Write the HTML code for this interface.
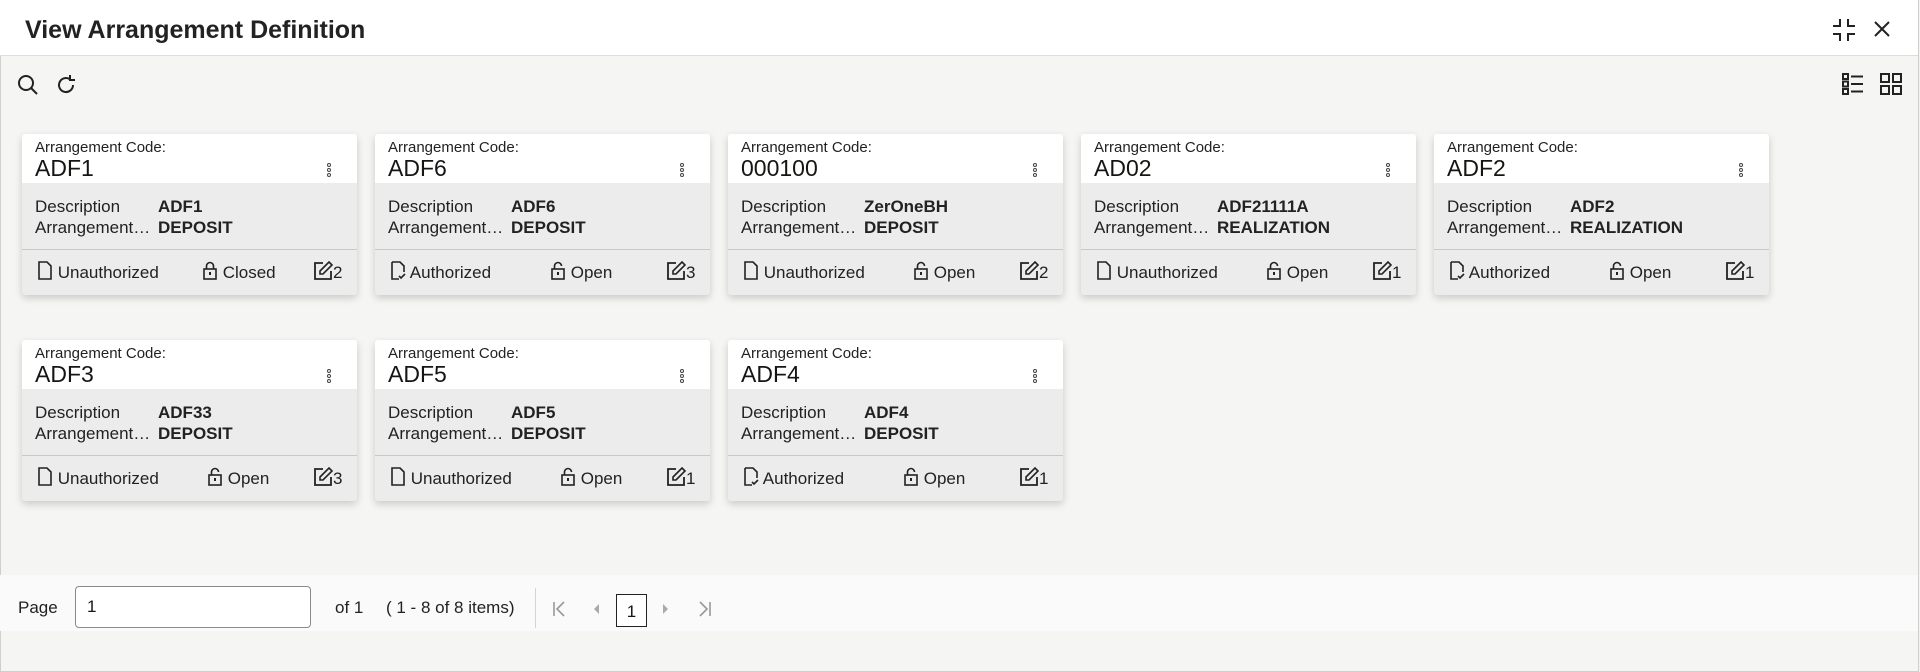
<!DOCTYPE html>
<html><head><meta charset="utf-8"><style>
*{box-sizing:border-box;margin:0;padding:0}
body{width:1920px;height:672px;overflow:hidden;background:#f3f3f3;font-family:"Liberation Sans",sans-serif;color:#161513;position:relative}
.frame{position:absolute;left:0;top:0;width:1919px;height:672px;border:1px solid #cfcfcf;border-top:none;background:#f5f5f4}
.hdr{position:absolute;left:0;top:0;width:1918px;height:56px;background:#fff;border-bottom:1px solid #ddd}
.title{position:absolute;left:25px;top:16px;font-size:25px;font-weight:bold;color:#222}
.card{position:absolute;width:335px;height:161px;background:#ececec;box-shadow:0 3px 8px rgba(0,0,0,.18);border-radius:3px;overflow:hidden}
.ch{position:absolute;left:0;top:0;width:100%;height:49px;background:#fff}
.lbl{position:absolute;left:13px;top:5px;font-size:15px;color:#222}
.code{position:absolute;left:13px;top:21px;font-size:23px;color:#161513}
.keb{position:absolute;left:305px;top:29px;width:4px}
.keb i{display:block;width:4px;height:4px;border:1px solid #444;border-radius:50%;margin-bottom:1px}
.row{position:absolute;left:13px;font-size:17px;color:#222}
.row b{position:absolute;left:123px;white-space:nowrap}
.div{position:absolute;left:0;top:115px;width:100%;height:1px;background:#c8c8c8}
.ft{position:absolute;top:127px;font-size:17px;color:#222;white-space:nowrap}
svg{display:inline-block;vertical-align:-2px}
.pg{position:absolute;left:0;top:575px;width:1918px;height:56px;background:#fafafa}
</style></head><body>
<div class="frame"></div>
<div class="hdr"><div class="title">View Arrangement Definition</div>
<svg style="position:absolute;left:1832px;top:18px" width="24" height="24" viewBox="0 0 24 24" fill="none" stroke="#222" stroke-width="2"><path d="M8 1v7H1M16 1v7h7M8 23v-7H1M16 23v-7h7"/></svg>
<svg style="position:absolute;left:1873px;top:20px" width="18" height="18" viewBox="0 0 18 18" stroke="#222" stroke-width="2"><path d="M2 2l14 14M16 2L2 16"/></svg>
</div>
<svg style="position:absolute;left:17px;top:74px" width="22" height="22" viewBox="0 0 22 22" fill="none" stroke="#222" stroke-width="2"><circle cx="9" cy="9" r="7"/><path d="M14 14l6 6"/></svg>
<svg style="position:absolute;left:55px;top:74px" width="22" height="22" viewBox="0 0 22 22" fill="none" stroke="#222" stroke-width="2"><path d="M18 11a7 7 0 1 1-3-5.7M15 1v5h5"/></svg>
<svg style="position:absolute;left:1842px;top:73px" width="22" height="22" viewBox="0 0 22 22" fill="none" stroke="#222" stroke-width="2"><rect x="1" y="1" width="5" height="5"/><rect x="1" y="8.5" width="5" height="5"/><rect x="1" y="16" width="5" height="5"/><path d="M9 3.5h12M9 11h12M9 18.5h12"/></svg>
<svg style="position:absolute;left:1880px;top:73px" width="22" height="22" viewBox="0 0 22 22" fill="none" stroke="#222" stroke-width="2"><rect x="1" y="1" width="8" height="8"/><rect x="13" y="1" width="8" height="8"/><rect x="1" y="13" width="8" height="8"/><rect x="13" y="13" width="8" height="8"/></svg>

<svg width="0" height="0" style="position:absolute"><defs>
<g id="doc"><path d="M2 1h8l4 4v13H2z" fill="none" stroke="#222" stroke-width="1.6"/></g>
<g id="docc"><path d="M2 1h8l4 4v6M2 1v17h7" fill="none" stroke="#222" stroke-width="1.6"/><path d="M9 15l2 2 4-4" fill="none" stroke="#222" stroke-width="1.6"/></g>
<g id="lockc"><rect x="2" y="8" width="12" height="10" fill="none" stroke="#222" stroke-width="1.6"/><path d="M4.5 8V5a3.5 3.5 0 0 1 7 0v3" fill="none" stroke="#222" stroke-width="1.6"/><rect x="7" y="11" width="2" height="3" fill="#222"/></g>
<g id="locko"><rect x="2" y="8" width="12" height="10" fill="none" stroke="#222" stroke-width="1.6"/><path d="M4.5 8V5a3.5 3.5 0 0 1 7 0" fill="none" stroke="#222" stroke-width="1.6"/><rect x="7" y="11" width="2" height="3" fill="#222"/></g>
<g id="ed"><path d="M9 2H1v16h16v-8" fill="none" stroke="#222" stroke-width="1.8"/><path d="M15 1l3 3-9 9H6v-3z" fill="none" stroke="#222" stroke-width="1.6"/></g>
</defs></svg>

<div class="card" style="left:22px;top:134px"><div class="ch"><div class="lbl">Arrangement Code:</div><div class="code">ADF1</div><div class="keb"><i></i><i></i><i></i></div></div>
<div class="row" style="top:63px">Description<b>ADF1</b></div><div class="row" style="top:84px">Arrangement…<b>DEPOSIT</b></div><div class="div"></div>
<div class="ft" style="left:15px"><svg width="16" height="19"><use href="#doc"/></svg> Unauthorized</div><div class="ft" style="left:180px"><svg width="16" height="19"><use href="#lockc"/></svg> Closed</div><div class="ft" style="left:292px"><svg width="19" height="19"><use href="#ed"/></svg>2</div></div>

<div class="card" style="left:375px;top:134px"><div class="ch"><div class="lbl">Arrangement Code:</div><div class="code">ADF6</div><div class="keb"><i></i><i></i><i></i></div></div>
<div class="row" style="top:63px">Description<b>ADF6</b></div><div class="row" style="top:84px">Arrangement…<b>DEPOSIT</b></div><div class="div"></div>
<div class="ft" style="left:15px"><svg width="16" height="19"><use href="#docc"/></svg> Authorized</div><div class="ft" style="left:175px"><svg width="16" height="19"><use href="#locko"/></svg> Open</div><div class="ft" style="left:292px"><svg width="19" height="19"><use href="#ed"/></svg>3</div></div>

<div class="card" style="left:728px;top:134px"><div class="ch"><div class="lbl">Arrangement Code:</div><div class="code">000100</div><div class="keb"><i></i><i></i><i></i></div></div>
<div class="row" style="top:63px">Description<b>ZerOneBH</b></div><div class="row" style="top:84px">Arrangement…<b>DEPOSIT</b></div><div class="div"></div>
<div class="ft" style="left:15px"><svg width="16" height="19"><use href="#doc"/></svg> Unauthorized</div><div class="ft" style="left:185px"><svg width="16" height="19"><use href="#locko"/></svg> Open</div><div class="ft" style="left:292px"><svg width="19" height="19"><use href="#ed"/></svg>2</div></div>

<div class="card" style="left:1081px;top:134px"><div class="ch"><div class="lbl">Arrangement Code:</div><div class="code">AD02</div><div class="keb"><i></i><i></i><i></i></div></div>
<div class="row" style="top:63px">Description<b>ADF21111A</b></div><div class="row" style="top:84px">Arrangement…<b>REALIZATION</b></div><div class="div"></div>
<div class="ft" style="left:15px"><svg width="16" height="19"><use href="#doc"/></svg> Unauthorized</div><div class="ft" style="left:185px"><svg width="16" height="19"><use href="#locko"/></svg> Open</div><div class="ft" style="left:292px"><svg width="19" height="19"><use href="#ed"/></svg>1</div></div>

<div class="card" style="left:1434px;top:134px"><div class="ch"><div class="lbl">Arrangement Code:</div><div class="code">ADF2</div><div class="keb"><i></i><i></i><i></i></div></div>
<div class="row" style="top:63px">Description<b>ADF2</b></div><div class="row" style="top:84px">Arrangement…<b>REALIZATION</b></div><div class="div"></div>
<div class="ft" style="left:15px"><svg width="16" height="19"><use href="#docc"/></svg> Authorized</div><div class="ft" style="left:175px"><svg width="16" height="19"><use href="#locko"/></svg> Open</div><div class="ft" style="left:292px"><svg width="19" height="19"><use href="#ed"/></svg>1</div></div>

<div class="card" style="left:22px;top:340px"><div class="ch"><div class="lbl">Arrangement Code:</div><div class="code">ADF3</div><div class="keb"><i></i><i></i><i></i></div></div>
<div class="row" style="top:63px">Description<b>ADF33</b></div><div class="row" style="top:84px">Arrangement…<b>DEPOSIT</b></div><div class="div"></div>
<div class="ft" style="left:15px"><svg width="16" height="19"><use href="#doc"/></svg> Unauthorized</div><div class="ft" style="left:185px"><svg width="16" height="19"><use href="#locko"/></svg> Open</div><div class="ft" style="left:292px"><svg width="19" height="19"><use href="#ed"/></svg>3</div></div>

<div class="card" style="left:375px;top:340px"><div class="ch"><div class="lbl">Arrangement Code:</div><div class="code">ADF5</div><div class="keb"><i></i><i></i><i></i></div></div>
<div class="row" style="top:63px">Description<b>ADF5</b></div><div class="row" style="top:84px">Arrangement…<b>DEPOSIT</b></div><div class="div"></div>
<div class="ft" style="left:15px"><svg width="16" height="19"><use href="#doc"/></svg> Unauthorized</div><div class="ft" style="left:185px"><svg width="16" height="19"><use href="#locko"/></svg> Open</div><div class="ft" style="left:292px"><svg width="19" height="19"><use href="#ed"/></svg>1</div></div>

<div class="card" style="left:728px;top:340px"><div class="ch"><div class="lbl">Arrangement Code:</div><div class="code">ADF4</div><div class="keb"><i></i><i></i><i></i></div></div>
<div class="row" style="top:63px">Description<b>ADF4</b></div><div class="row" style="top:84px">Arrangement…<b>DEPOSIT</b></div><div class="div"></div>
<div class="ft" style="left:15px"><svg width="16" height="19"><use href="#docc"/></svg> Authorized</div><div class="ft" style="left:175px"><svg width="16" height="19"><use href="#locko"/></svg> Open</div><div class="ft" style="left:292px"><svg width="19" height="19"><use href="#ed"/></svg>1</div></div>

<div class="pg"></div>
<div style="position:absolute;left:18px;top:598px;font-size:17px;color:#222">Page</div>
<div style="position:absolute;left:75px;top:586px;width:236px;height:42px;background:#fff;border:1px solid #8a8a8a;border-radius:4px;font-size:17px;padding:10px 11px">1</div>
<div style="position:absolute;left:335px;top:598px;font-size:17px;color:#222">of 1</div>
<div style="position:absolute;left:386px;top:598px;font-size:17px;color:#222">( 1 - 8 of 8 items)</div>
<div style="position:absolute;left:535px;top:588px;width:1px;height:40px;background:#d4d4d4"></div>
<svg style="position:absolute;left:552px;top:601px" width="14" height="16" stroke="#999" stroke-width="1.6" fill="none"><path d="M2 1v14M12 1L5 8l7 7"/></svg>
<svg style="position:absolute;left:592px;top:603px" width="8" height="12"><path d="M7 1L2 6l5 5z" fill="#aaa"/></svg>
<div style="position:absolute;left:616px;top:594px;width:31px;height:33px;border:1px solid #222;background:#fff;font-size:17px;text-align:center;padding-top:7px">1</div>
<svg style="position:absolute;left:662px;top:603px" width="8" height="12"><path d="M1 1l5 5-5 5z" fill="#aaa"/></svg>
<svg style="position:absolute;left:698px;top:601px" width="14" height="16" stroke="#999" stroke-width="1.6" fill="none"><path d="M12 1v14M2 1l7 7-7 7"/></svg>
</body></html>
